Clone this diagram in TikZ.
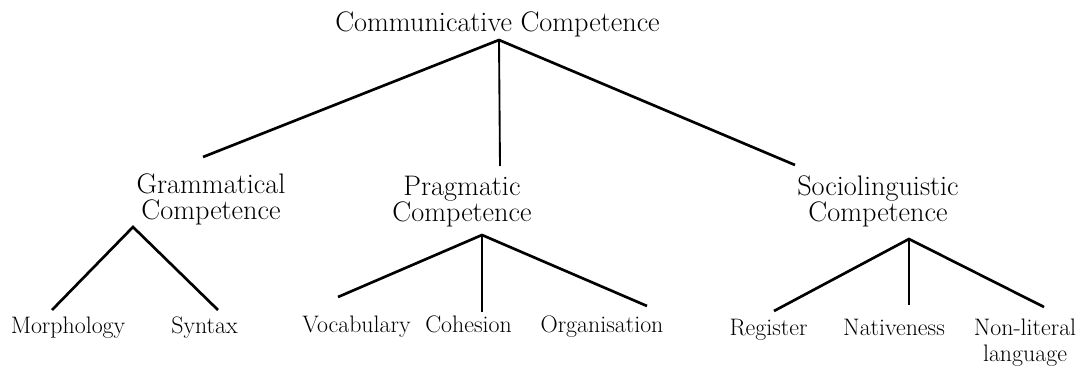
\documentclass[tikz,border=0pt]{standalone}
\begin{document}
\begin{tikzpicture}[x=0.75pt,y=-0.75pt,
  lbl/.style={inner sep=0pt, anchor=base, align=center, font=\fontsize{21.2}{19.5}\selectfont},
  leaf/.style={inner sep=0pt, anchor=base, align=center, font=\fontsize{17.9}{19.5}\selectfont},
  branch/.style={line width=2pt, line join=miter, line cap=butt},
  stem/.style={line width=1.4pt}]
\useasboundingbox (0,0) rectangle (1079,374);
% labels (base anchor = baseline of the last line)
\node[lbl] (cc) at (497.5,32) {Communicative Competence};
\node[lbl] (gc) at (211,220) {Grammatical\\Competence};
\node[lbl] (pc) at (462,222) {Pragmatic\\Competence};
\node[lbl] (sc) at (878,222) {Sociolinguistic\\Competence};
\node[leaf] (morph) at (68,334) {Morphology};
\node[leaf] (syn) at (204.5,334) {Syntax};
\node[leaf] (voc) at (356.5,332) {Vocabulary};
\node[leaf] (coh) at (468.5,332) {Cohesion};
\node[leaf] (org) at (602,332) {Organisation};
\node[leaf] (reg) at (768.5,335) {Register};
\node[leaf] (nat) at (894,335) {Nativeness};
\node[leaf] (nonlit) at (1025,361) {Non-literal\\language};
% branch points
\coordinate (cc-a) at (499,40);
\coordinate (cc-l) at (203,157);
\coordinate (cc-m) at (500,166);
\coordinate (cc-r) at (795,165);
\coordinate (gc-a) at (133,227);
\coordinate (gc-l) at (52,310);
\coordinate (gc-r) at (218,310);
\coordinate (pc-a) at (482,235);
\coordinate (pc-l) at (338,297);
\coordinate (pc-m) at (482,312);
\coordinate (pc-r) at (647,306);
\coordinate (sc-a) at (909,239);
\coordinate (sc-l) at (774,311);
\coordinate (sc-m) at (909,305);
\coordinate (sc-r) at (1044,307);
% connectors
\draw[branch] (cc-l) -- (cc-a) -- (cc-r);
\draw[stem] (cc-a) -- (cc-m);
\draw[branch] (gc-l) -- (gc-a) -- (gc-r);
\draw[branch] (pc-l) -- (pc-a) -- (pc-r);
\draw[stem] (pc-a) -- (pc-m);
\draw[branch] (sc-l) -- (sc-a) -- (sc-r);
\draw[stem] (sc-a) -- (sc-m);
\end{tikzpicture}
\end{document}
